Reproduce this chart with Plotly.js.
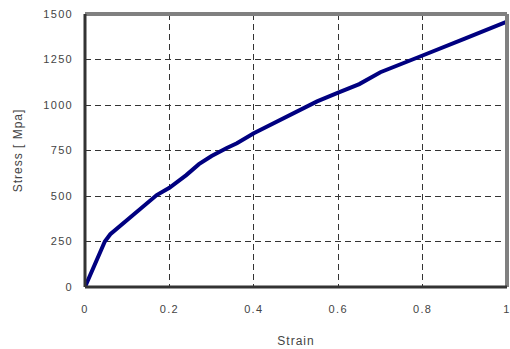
<!DOCTYPE html>
<html><head><meta charset="utf-8">
<script src="https://cdn.plot.ly/plotly-3.0.1.min.js"></script>
<style>html,body{margin:0;padding:0;background:#fff}#c{width:510px;height:349px}
.xtick text,.ytick text{letter-spacing:1.3px}
.xtitle,.ytitle{letter-spacing:1px}
</style>
</head><body><div id="c"></div>
<script>
const strain = [0, 0.02, 0.047, 0.06, 0.08, 0.1, 0.13, 0.17, 0.2, 0.24, 0.27, 0.3, 0.336, 0.36, 0.4, 0.45, 0.5, 0.55, 0.6, 0.65, 0.7, 0.75, 0.8, 0.9, 1.0];
const stress = [0, 105, 250, 290, 330, 365, 425, 505, 545, 615, 675, 720, 764, 790, 845, 905, 960, 1020, 1068, 1115, 1180, 1228, 1272, 1365, 1458];
const xTicks = [0, 0.2, 0.4, 0.6, 0.8, 1];
const xTickText = ['0', '0.2', '0.4', '0.6', '0.8', '1'];
const yTicks = [0, 250, 500, 750, 1000, 1250, 1500];

const font = {family: 'Liberation Sans, Arial, sans-serif', size: 11, color: '#444'};
const tfont = {family: 'Liberation Sans, Arial, sans-serif', size: 12, color: '#444'};
Plotly.newPlot('c', [{
  x: strain, y: stress, type: 'scatter', mode: 'lines',
  line: {color: '#000080', width: 4}
}], {
  width: 510, height: 349,
  margin: {l: 85, r: 3, t: 14, b: 62},
  paper_bgcolor: '#fff', plot_bgcolor: '#fff',
  showlegend: false,
  font: font,
  xaxis: {
    range: [0, 1], tickvals: xTicks, ticktext: xTickText,
    showgrid: true, gridcolor: '#333', griddash: '6px,4px', gridwidth: 1,
    zeroline: false, showline: false, ticks: '', ticklabelstandoff: 14,
    ticklabeloverflow: 'allow',
    tickfont: font,
    title: {text: 'Strain', font: tfont, standoff: 22}
  },
  yaxis: {
    range: [0, 1500], tickvals: yTicks,
    showgrid: true, gridcolor: '#333', griddash: '6px,4px', gridwidth: 1,
    zeroline: false, showline: false, ticks: '', ticklabelstandoff: 11,
    ticklabeloverflow: 'allow',
    tickfont: font,
    title: {text: 'Stress [ Mpa]', font: tfont, standoff: 18}
  },
  shapes: [
    {type: 'line', xref: 'paper', yref: 'paper', x0: 0, x1: 1, y0: 1, y1: 1, line: {color: '#808080', width: 4}},
    {type: 'line', xref: 'paper', yref: 'paper', x0: 1, x1: 1, y0: 0, y1: 1, line: {color: '#808080', width: 4}},
    {type: 'line', xref: 'paper', yref: 'paper', x0: 0, x1: 0, y0: 0, y1: 1, line: {color: '#333', width: 3}},
    {type: 'line', xref: 'paper', yref: 'paper', x0: 0, x1: 1, y0: 0, y1: 0, line: {color: '#333', width: 3}}
  ]
}, {staticPlot: true});
</script></body></html>
